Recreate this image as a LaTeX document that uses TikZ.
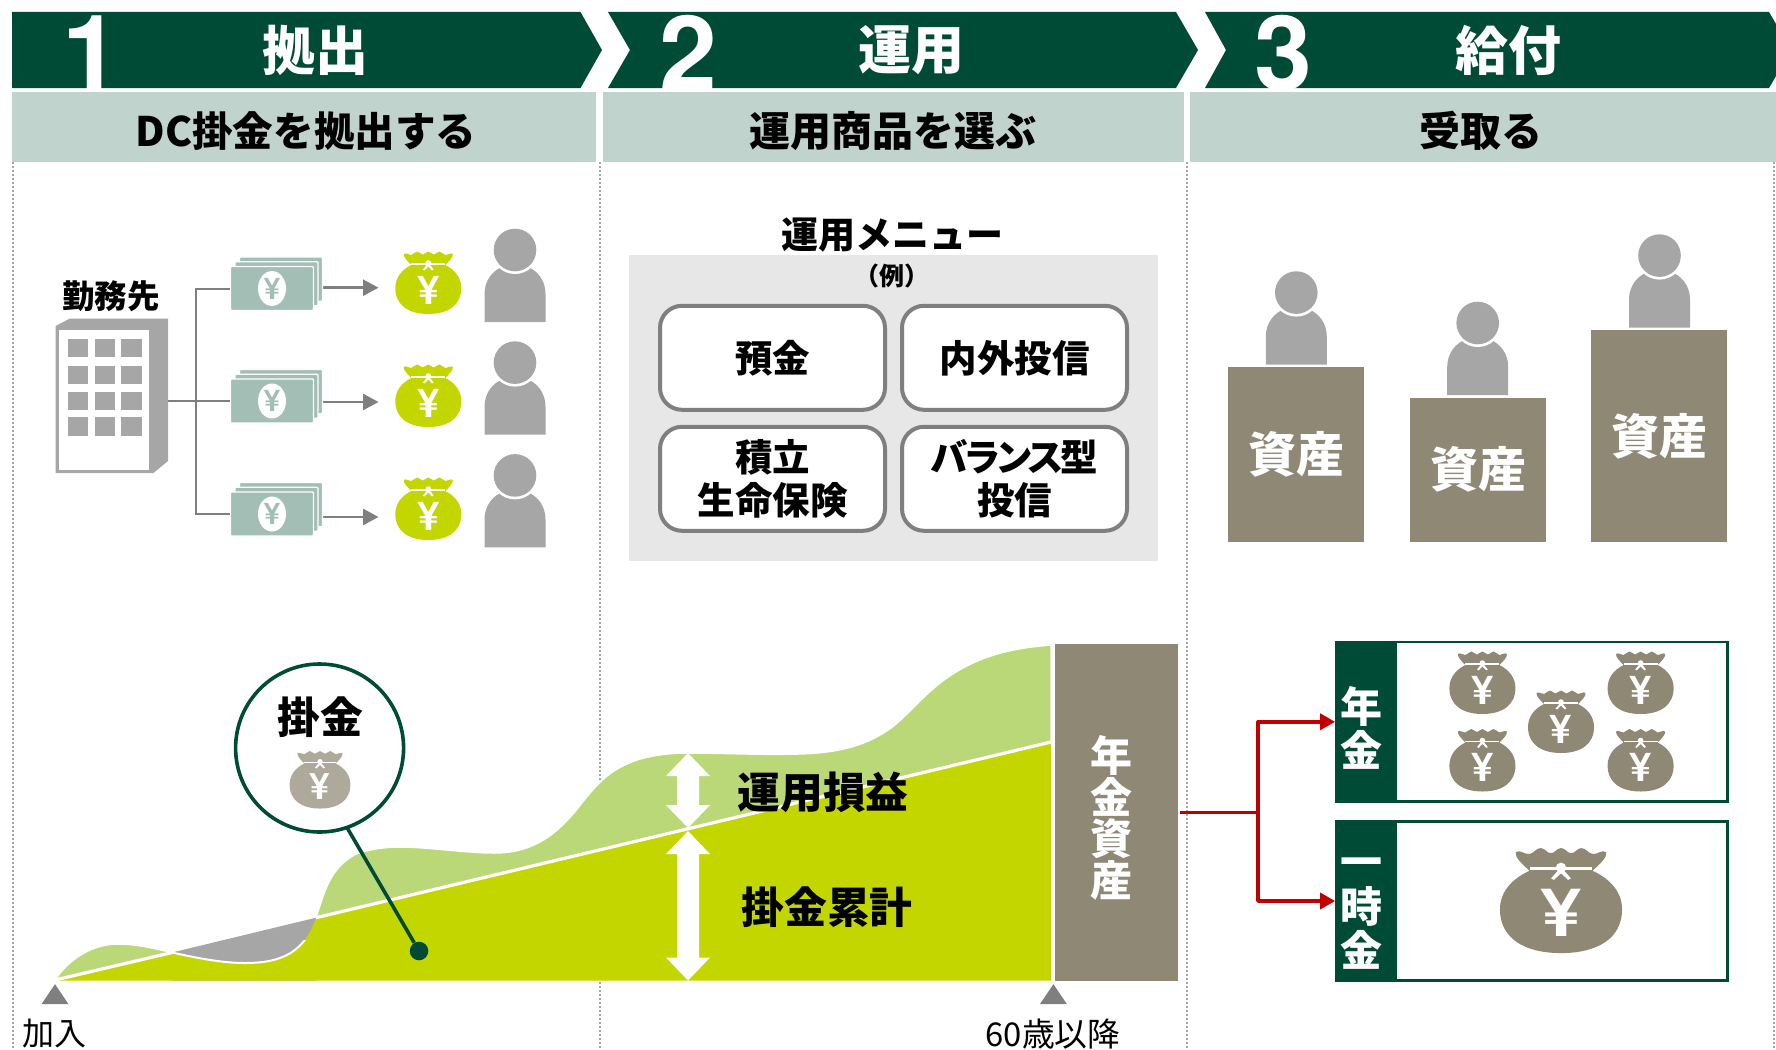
\documentclass[tikz,border=0pt]{standalone}
\usepackage{fontspec}
\setmainfont{Noto Sans CJK JP}
\newfontfamily\numfont{TeX Gyre Heros}
\newfontfamily\paltfont[RawFeature=+palt,LetterSpace=-7]{Noto Sans CJK JP}
\usepackage{xcolor}
\definecolor{PineDark}{HTML}{004B36}
\definecolor{PineBar}{HTML}{C1D3CD}
\definecolor{NoteGreen}{HTML}{A3BFB5}
\definecolor{LimeGain}{HTML}{C4D600}
\definecolor{LimePale}{HTML}{BBD878}
\definecolor{AssetBrown}{HTML}{8E8875}
\definecolor{BagTaupe}{HTML}{AFA99B}
\definecolor{IconGray}{HTML}{A6A6A6}
\definecolor{LineGray}{HTML}{7F7F7F}
\definecolor{PanelGray}{HTML}{E7E7E7}
\definecolor{PayRed}{HTML}{C00000}
\usepackage{tikz}
\usetikzlibrary{shapes.geometric, arrows.meta, positioning}
\tikzstyle{banner} = [fill=PineDark]
\tikzstyle{bannertext} = [text=white, inner sep=0, font=\fontsize{53}{53}\selectfont\bfseries]
\tikzstyle{bannernum} = [text=white, inner sep=0, font=\fontsize{104}{104}\selectfont\numfont\bfseries]
\tikzstyle{secbar} = [rectangle, fill=PineBar, inner sep=0, outer sep=0, minimum height=70, text=black, font=\fontsize{41}{41}\selectfont\bfseries]
\tikzstyle{divider} = [IconGray, line width=2pt, dash pattern=on 2pt off 2pt]
\tikzstyle{menubox} = [rectangle, rounded corners=22, draw=LineGray, line width=4pt, fill=white, align=center, inner sep=0, outer sep=0, minimum width=225, minimum height=104, font=\fontsize{37.5}{43}\selectfont\bfseries]
\tikzstyle{assetbox} = [rectangle, fill=AssetBrown, text=white, anchor=south, inner sep=0, outer sep=0, minimum width=136, font=\fontsize{48}{48}\selectfont\bfseries]
\tikzstyle{billnote} = [rectangle, rounded corners=1, fill=NoteGreen, draw=white, line width=1.2pt, inner sep=0, minimum width=83, minimum height=44]
\tikzstyle{billoval} = [ellipse, fill=white, text=NoteGreen, inner sep=0, minimum width=28, minimum height=35, font=\fontsize{30}{30}\selectfont\numfont\bfseries]
\tikzstyle{feed} = [LineGray, line width=2pt]
\tikzstyle{feedarrow} = [LineGray, line width=2.6pt, -{Triangle[length=15.5pt,width=16pt]}]
\tikzstyle{payline} = [PayRed, line width=3.6pt, line join=round]
\tikzstyle{payarrow} = [payline, -{Triangle[length=15pt,width=16pt]}]
\tikzstyle{chartlabel} = [inner sep=0, text=black, font=\fontsize{42.8}{42.8}\selectfont\bfseries]
\tikzstyle{payblock} = [rectangle, fill=PineDark, anchor=west, inner sep=0, outer sep=0, minimum width=62, minimum height=161.6]
\tikzstyle{paylabel} = [inner sep=0, text=white, align=center, font=\fontsize{42}{44.5}\selectfont\bfseries]
\tikzstyle{paybox} = [rectangle, draw=PineDark, line width=2.4pt, fill=white, inner sep=0, outer sep=0, minimum width=391, minimum height=159.2]
\tikzstyle{tick} = [isosceles triangle, isosceles triangle apex angle=68, shape border rotate=90, fill=LineGray, inner sep=0, minimum height=20, minimum width=27]
\tikzstyle{axislabel} = [inner sep=0, text=black, font=\fontsize{32}{32}\selectfont]
\newcommand{\moneybag}[4]{
  \begin{scope}[shift={(#1,#2)},#3]
    \fill[#4] (-24.5,-29) .. controls (-22,-31) and (-20,-27.5) .. (-17,-28)
      .. controls (-14.5,-28.5) and (-13.5,-31.5) .. (-11,-31.5)
      .. controls (-8.5,-31.5) and (-8,-28.5) .. (-5.5,-28.5)
      .. controls (-3,-28.5) and (-2.5,-31.5) .. (0,-31.5)
      .. controls (2.5,-31.5) and (3,-28.5) .. (5.5,-28.5)
      .. controls (8,-28.5) and (8.5,-31.5) .. (11,-31.5)
      .. controls (13.5,-31.5) and (14.5,-28.5) .. (17,-28)
      .. controls (20,-27.5) and (22,-31) .. (24.5,-29)
      .. controls (25,-26) and (21,-22) .. (17,-18)
      .. controls (27,-13) and (33,-5) .. (33,5)
      .. controls (33,22) and (20,31) .. (0,31)
      .. controls (-20,31) and (-33,22) .. (-33,5)
      .. controls (-33,-5) and (-27,-13) .. (-17,-18)
      .. controls (-21,-22) and (-25,-26) .. (-24.5,-29) -- cycle;
    \fill[white] (-17,-20) rectangle (17,-18.4);
    \fill[white] (0,-20) circle (2.8);
    \fill[white] (-1,-19) -- (-5.4,-13.4) -- (-3.8,-12.6) -- (0,-16.5) -- (3.8,-12.6) -- (5.4,-13.4) -- (1,-19) -- cycle;
    \node (yen) [transform shape, text=white, inner sep=0, font=\fontsize{40}{40}\selectfont\numfont\bfseries] at (0,7) {¥};
  \end{scope}
}
\newcommand{\person}[2]{
  \begin{scope}[shift={(#1,#2)}]
    \fill[IconGray] (-30.5,72) -- (-30.5,44) .. controls (-30.5,30) and (-22,20) .. (-11,16) -- (11,16) .. controls (22,20) and (30.5,30) .. (30.5,44) -- (30.5,72) -- cycle;
    \fill[white] (0,0) circle (24);
    \fill[IconGray] (0,0) circle (21.3);
  \end{scope}
}
\newcommand{\dblarrow}[3]{
  \fill[white] (#1,#2) -- (#1+22,#2+23) -- (#1+11,#2+23) -- (#1+11,#3-23) -- (#1+22,#3-23) -- (#1,#3) -- (#1-22,#3-23) -- (#1-11,#3-23) -- (#1-11,#2+23) -- (#1-22,#2+23) -- cycle;
}
\newcommand{\gaincurve}{(55,980) .. controls (70,957) and (95,944) .. (117,944)
  .. controls (137,944) and (152,948) .. (172,952.5)
  .. controls (197,958) and (222,963) .. (245,963)
  .. controls (285,963) and (305,950) .. (316,917.7)
  .. controls (325,890) and (330,868) .. (356,854)
  .. controls (370,849) and (385,847) .. (399,847)
  .. controls (430,847) and (465,853) .. (494,853)
  .. controls (530,853) and (555,838) .. (581,804)
  .. controls (600,780) and (612,768) .. (640,759)
  .. controls (655,755) and (670,753) .. (687,753)
  .. controls (725,753) and (760,755) .. (798,754)
  .. controls (840,753) and (870,745) .. (896,724)
  .. controls (920,703) and (935,680) .. (975,662)
  .. controls (1000,651) and (1025,647) .. (1051,645)}

\begin{document}
\begin{tikzpicture}[x=1pt,y=-1pt,node distance=17pt and 17pt]
  \useasboundingbox (0,0) rectangle (1776,1049);

  % banners
  \fill[banner] (12,12) -- (580.5,12) -- (602,50) -- (580.5,88) -- (12,88) -- cycle;
  \fill[banner] (608,12) -- (1176,12) -- (1198,50) -- (1176,88) -- (608,88) -- (630,50) -- cycle;
  \fill[banner] (1205,12) -- (1769,12) -- (1776,24) -- (1776,76) -- (1769,88) -- (1205,88) -- (1226,50) -- cycle;
  \node (numone) [bannernum] at (91,53) {1};
  \node (numtwo) [bannernum] at (688,53) {2};
  \node (numthree) [bannernum] at (1283,53) {3};
  \node (stepone) [bannertext] at (315,50) {拠出};
  \node (steptwo) [bannertext] at (911,50) {運用};
  \node (stepthree) [bannertext] at (1508,50) {給付};

  % section bars
  \node (barone) [secbar, minimum width=584.5] at (304,127) {};
  \node (bartwo) [secbar, minimum width=581, right=7pt of barone] {};
  \node (barthree) [secbar, minimum width=586.5, right=5.5pt of bartwo] {};
  \node (barlabelone) [secbar, fill=none, font=\fontsize{40.6}{41}\selectfont\bfseries] at (306,131) {DC掛金を拠出する};
  \node (barlabeltwo) [secbar, fill=none] at (893,131) {運用商品を選ぶ};
  \node (barlabelthree) [secbar, fill=none] at (1481,131) {受取る};

  % dotted dividers
  \draw[divider] (12.5,162) -- (12.5,1049);
  \draw[divider] (600,162) -- (600,1049);
  \draw[divider] (1186.5,162) -- (1186.5,1049);
  \draw[divider] (1774,162) -- (1774,1049);

  % employer
  \node (employer) [inner sep=0, font=\fontsize{32.5}{32.5}\selectfont\bfseries] at (111,296) {勤務先};
  \fill[IconGray] (55.7,473) -- (55.7,326) -- (70,318.5) -- (168,318.5) -- (168,461) -- (153.4,473) -- cycle;
  \fill[white] (59.3,330) rectangle (149.4,469.6);
  \foreach \wx in {67.6,94.5,121}
    \foreach \wy in {339,365.6,391.5,417.4}
      \fill[IconGray] (\wx,\wy) rectangle ++(20.5,18.2);

  \coordinate (towerside) at (168,401);
  \coordinate (trunk) at (196,401);
  \foreach \name/\ny/\ay/\by/\hy in {notea/288.5/287.7/283/250, noteb/401/402/396/362.6, notec/514/517/509/475.4} {
    \coordinate (\name tip) at (378.5,\ay);
    \draw[feedarrow] (318,\ay) -- (\name tip);
    \foreach \s in {2,1}
      \node (\name\s) [billnote, xshift=\s*4.5pt, yshift=\s*4.7pt] at (272,\ny) {};
    \node (\name) [billnote] at (272,\ny) {};
    \node (\name yen) [billoval] at (272,\ny) {¥};
    \draw[feed] (trunk) |- (\name.west);
    \moneybag{428.3}{\by}{scale=1}{LimeGain}
    \person{515}{\hy}
  }
  \draw[feed] (towerside) -- (trunk);

  % menu
  \node (menutitle) [inner sep=0, font=\fontsize{37}{37}\selectfont\bfseries] at (892.6,235) {運用メニュー};
  \fill[PanelGray] (629,255) rectangle (1158,561);
  \node (menunote) [inner sep=0, font=\fontsize{25}{25}\selectfont\bfseries] at (892,276) {（例）};
  \node (menua) [menubox] at (772.5,357.8) {預金};
  \node (menub) [menubox, right=of menua] {内外投信};
  \node (menuc) [menubox, below=of menua] {積立\\生命保険};
  \node (menud) [menubox, below=of menub] {\paltfont\bfseries バランス型\\投信};

  % assets
  \person{1296.3}{292.6}
  \person{1477.7}{323}
  \person{1659.5}{255.6}
  \node (assetone) [assetbox, minimum height=174.4] at (1296,541.8) {資産};
  \node (assettwo) [assetbox, minimum height=144.1] at (1478,541.8) {資産};
  \node (assetthree) [assetbox, minimum height=211.4] at (1659,541.8) {資産};

  % chart
  \fill[LimePale, draw=white, line width=1.5pt] \gaincurve -- (1051,980.5) -- (55,980.5) -- cycle;
  \fill[IconGray] (172,952.5) -- (316,917.7) -- (316,980.5) -- (172,980.5) -- cycle;
  \begin{scope}
    \clip \gaincurve -- (1051,980.5) -- (55,980.5) -- cycle;
    \fill[LimeGain] (55,980.5) -- (1051,742) -- (1051,980.5) -- cycle;
  \end{scope}
  \begin{scope}
    \clip (172,940) rectangle (318,980);
    \draw[white, line width=2pt] \gaincurve;
  \end{scope}
  \draw[white, line width=3.2pt] (55,980) -- (172,952.5);
  \draw[white, line width=3.2pt] (316,917.7) -- (1051,742);
  \dblarrow{688}{753}{828}
  \dblarrow{688}{831}{980.5}
  \node (gainlabel) [chartlabel] at (823,792) {運用損益};
  \node (sumlabel) [chartlabel] at (827,907.6) {掛金累計};
  \node (fundbox) [rectangle, fill=AssetBrown, inner sep=0, outer sep=0, minimum width=123, minimum height=336.5] at (1116.5,812.3) {};
  \node (fundlabel) [inner sep=0, text=white, align=center, font=\fontsize{42}{41.5}\selectfont\bfseries] at (1111.5,818) {年\\金\\資\\産};

  % callout
  \node (dot) [circle, fill=PineDark, inner sep=0, minimum size=18.6] at (419,951) {};
  \node (callout) [circle, draw=PineDark, line width=3.6pt, fill=white, inner sep=0, outer sep=0, minimum size=168] at (319.6,748) {};
  \draw[PineDark, line width=3.6pt] (callout.-71.6) -- (dot);
  \node (calloutlabel) [chartlabel] at (320,717) {掛金};
  \moneybag{320}{780}{scale=0.92}{BagTaupe}

  % axis
  \node (tickstart) [tick] at (55,997) {};
  \node (tickend) [tick] at (1053.4,997) {};
  \node (startlabel) [axislabel] at (54.5,1034) {加入};
  \node (endlabel) [axislabel, font=\fontsize{32.8}{32.8}\selectfont] at (1053,1034) {60歳以降};

  % payout
  \node (pensionbox) [paybox] at (1531.8,721.8) {};
  \node (pensionblock) [payblock] at ([xshift=-1.2pt]pensionbox.west) {};
  \node (pensionlabel) [paylabel] at (1361,728) {年\\金};
  \node (lumpbox) [paybox] at (1531.8,901) {};
  \node (lumpblock) [payblock] at ([xshift=-1.2pt]lumpbox.west) {};
  \node (lumplabel) [paylabel] at (1361,914) {一\\時\\金};
  \moneybag{1482.4}{683}{scale=1}{AssetBrown}
  \moneybag{1640.6}{683}{scale=1}{AssetBrown}
  \moneybag{1561}{722}{scale=1}{AssetBrown}
  \moneybag{1482.4}{760.5}{scale=1}{AssetBrown}
  \moneybag{1640.6}{760.5}{scale=1}{AssetBrown}
  \moneybag{1561}{901}{xscale=1.85,yscale=1.68}{AssetBrown}

  \coordinate (fundout) at (1180,812.6);
  \coordinate (fork) at (1258,812.6);
  \draw[payline] (fundout) -- (fork);
  \draw[payarrow] (fork) |- (pensionblock.west);
  \draw[payarrow] (fork) |- (lumpblock.west);

\end{tikzpicture}
\end{document}
